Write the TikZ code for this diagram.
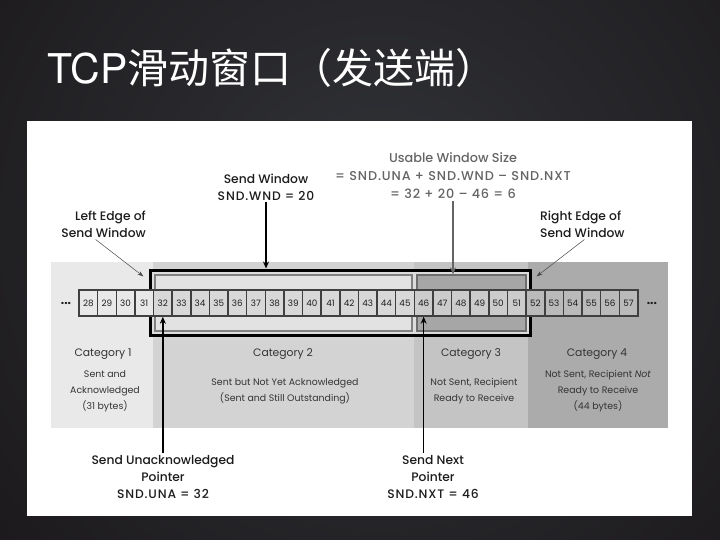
\documentclass[tikz,border=0pt]{standalone}
\usepackage{fontspec}
\setmainfont{Poppins}
\newfontfamily\calloutfont{Poppins Medium}
\newfontfamily\cjk{Noto Sans CJK SC}
\newfontfamily\titlelatin{TeX Gyre Heros}
\newcommand\capsline{\addfontfeature{LetterSpace=7}}
\usetikzlibrary{positioning,arrows.meta,calc}

\definecolor{slidecenter}{RGB}{50,52,57}
\definecolor{slideedge}{RGB}{14,9,10}
\definecolor{catA}{RGB}{233,233,233}
\definecolor{catB}{RGB}{211,211,211}
\definecolor{catC}{RGB}{196,196,196}
\definecolor{catD}{RGB}{171,171,171}
\definecolor{cellA}{RGB}{232,232,232}
\definecolor{cellB}{RGB}{216,216,216}
\definecolor{cellC}{RGB}{204,204,204}
\definecolor{cellD}{RGB}{186,186,186}
\definecolor{cellrule}{RGB}{64,64,64}
\definecolor{sentfill}{RGB}{226,226,226}
\definecolor{usablefill}{RGB}{166,166,166}
\definecolor{framegray}{RGB}{128,128,128}
\definecolor{ink}{RGB}{28,28,28}
\definecolor{catink}{RGB}{52,52,52}
\definecolor{usableink}{RGB}{100,100,100}

\begin{document}
\begin{tikzpicture}[x=1pt, y=-1pt,
    cell/.style={draw=cellrule, line width=1.5pt, minimum width=18.63pt, minimum height=26pt, inner sep=0pt, text=ink, font=\fontsize{8.8}{9}\selectfont},
    winframe/.style={draw=black, line width=3pt, fill=catB!80!white, minimum width=380pt, minimum height=65pt, inner sep=0pt},
    innerbox/.style={draw=framegray, line width=1.2pt, minimum height=56pt, inner sep=0pt},
    callout/.style={align=center, text=ink, inner sep=2pt, font=\calloutfont\fontsize{12.3}{17}\selectfont},
    cathead/.style={text=catink, inner sep=1pt, font=\fontsize{10.8}{12}\selectfont},
    cattext/.style={align=center, text=catink, inner sep=1pt, font=\fontsize{9.4}{16}\selectfont},
    dotsnode/.style={text=ink, inner sep=0pt, font=\fontsize{12}{12}\selectfont\bfseries},
    ptr/.style={line width=1.6pt, -{Stealth[length=7pt, width=6pt]}},
    edgeptr/.style={draw=ink!80, line width=0.5pt, -{Stealth[length=6pt, width=4pt]}}
]
\useasboundingbox (0,0) rectangle (720,540);
\begin{scope}
\clip (0,0) rectangle (720,540);
\shade[inner color=slidecenter, outer color=slideedge] (380,230) circle (800);
\end{scope}
\node[anchor=base west, text=white, inner sep=0pt, font=\fontsize{41}{42}\selectfont] (title) at (47,84) {{\titlelatin TCP}{\cjk 滑动窗口（发送端）}};
\fill[white] (27,121) rectangle (692,516);

\fill[catA] (51,262) rectangle (153,428);
\fill[catB] (153,262) rectangle (414,428);
\fill[catC] (414,262) rectangle (528,428);
\fill[catD] (528,262) rectangle (668,428);

\node[winframe] (window) at (340,302.5) {};
\node[innerbox, fill=sentfill, minimum width=257pt] (sentbox) at (283.5,303) {};
\node[innerbox, fill=usablefill, draw=framegray!85!black, minimum width=109pt] (usablebox) at (471.5,303) {};

\foreach \n in {28,...,31} \node[cell, fill=cellA] (c\n) at ({88.315+18.63*(\n-28)},303) {\n};
\foreach \n in {32,...,45} \node[cell, fill=cellB] (c\n) at ({88.315+18.63*(\n-28)},303) {\n};
\foreach \n in {46,...,51} \node[cell, fill=cellC] (c\n) at ({88.315+18.63*(\n-28)},303) {\n};
\foreach \n in {52,...,57} \node[cell, fill=cellD] (c\n) at ({88.315+18.63*(\n-28)},303) {\n};

\node[dotsnode, left=7pt of c28] (dotsleft) {...};
\node[dotsnode, right=8pt of c57] (dotsright) {...};

\node[callout] (sndwnd) at (266,187) {Send Window\\{\capsline SND.WND = 20}};
\node[callout, text=usableink, font=\calloutfont\fontsize{12.8}{18}\selectfont] (usablelbl) at (453,176) {Usable Window Size\\{\capsline = SND.UNA + SND.WND – SND.NXT}\\{\capsline = 32 + 20 – 46 = 6}};
\node[callout, align=right, anchor=east] (leftedge) at (148,224) {Left Edge of\\Send Window};
\node[callout, align=left, anchor=west] (rightedge) at (538,224) {Right Edge of\\Send Window};

\node[cathead] (cat1) at (103,354) {Category 1};
\node[cathead] (cat2) at (283,354) {Category 2};
\node[cathead] (cat3) at (471,354) {Category 3};
\node[cathead] (cat4) at (597,354) {Category 4};
\node[cattext] (cat1txt) at (105,391) {Sent and\\Acknowledged\\(31 bytes)};
\node[cattext] (cat2txt) at (285,391) {Sent but Not Yet Acknowledged\\(Sent and Still Outstanding)};
\node[cattext] (cat3txt) at (474,391) {Not Sent, Recipient\\Ready to Receive};
\node[cattext] (cat4txt) at (598,391) {Not Sent, Recipient \textit{Not}\\Ready to Receive\\(44 bytes)};

\node[callout] (sndunalbl) at (163,477) {Send Unacknowledged\\Pointer\\{\capsline SND.UNA = 32}};
\node[callout] (sndnxtlbl) at (433,477) {Send Next\\Pointer\\{\capsline SND.NXT = 46}};

\draw[ptr] (sndwnd) -- (sndwnd |- window.north);
\draw[ptr, draw=usableink] (usablelbl) -- (usablelbl |- usablebox.north);
\draw[edgeptr] ([xshift=-8pt]leftedge.south) -- ([shift={(-5,8)}]window.north west);
\draw[edgeptr] ([xshift=2pt]rightedge.south) -- ([shift={(5,8)}]window.north east);
\draw[ptr] (sndunalbl.north -| c32) -- (c32.south);
\draw[ptr] (sndnxtlbl.north -| c46) -- (c46.south);

\end{tikzpicture}
\end{document}
